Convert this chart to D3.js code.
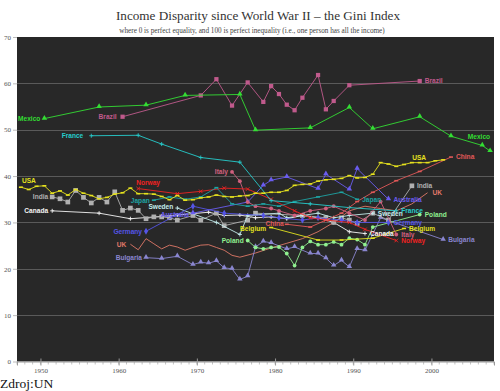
<!DOCTYPE html>
<html><head><meta charset="utf-8">
<script src="https://cdn.jsdelivr.net/npm/d3@7/dist/d3.min.js"></script>
<style>html,body{margin:0;padding:0;background:#fff;}svg{display:block}</style>
</head><body>
<svg id="chart" width="500" height="391"></svg>
<script>
// ---------- data ----------
const yTicks = [0,10,20,30,40,50,60,70];
const xTicks = [1950,1960,1970,1980,1990,2000];
const titleText = "Income Disparity since World War II \u2013 the Gini Index";
const subtitleText = "where 0 is perfect equality, and 100 is perfect inequality (i.e., one person has all the income)";
const sourceText = "Zdroj:UN";

const mexico = [[1950,52.4],[1957,54.9],[1963,55.3],[1968,57.4],[1975,57.6],[1977,49.9],[1984,50.4],[1989,54.8],[1992,50.2],[1998,52.8],[2002,48.6],[2006,46.6],[2007,45.4]];
const brazil = [[1960,52.8],[1970,57.4],[1972,60.9],[1974,55.2],[1976,60.2],[1978,56.0],[1979,59.4],[1980,57.7],[1981,55.4],[1982,54.2],[1983,56.9],[1985,61.8],[1986,54.4],[1987,56.2],[1989,59.6],[1998,60.5]];
const france = [[1956,48.7],[1962,48.8],[1965,46.9],[1970,44.0],[1975,43.0],[1979,34.7],[1984,34.0],[1989,33.2],[1995,32.5]];
const usa = [[1947,37.6],[1948,37.1],[1949,37.8],[1950,37.9],[1951,36.3],[1952,36.8],[1953,35.9],[1954,37.1],[1955,36.3],[1956,35.8],[1957,35.1],[1958,35.4],[1959,36.1],[1960,36.4],[1961,37.4],[1962,36.2],[1963,36.2],[1964,36.1],[1965,35.6],[1966,34.9],[1967,35.8],[1968,34.8],[1969,34.9],[1970,35.3],[1971,35.5],[1972,35.9],[1973,35.6],[1974,35.5],[1975,35.7],[1976,35.8],[1977,36.3],[1978,36.3],[1979,36.5],[1980,36.5],[1981,36.9],[1982,38.0],[1983,38.2],[1984,38.3],[1985,38.9],[1986,39.2],[1987,39.3],[1988,39.5],[1989,40.1],[1990,39.6],[1991,39.7],[1992,40.4],[1993,42.9],[1994,42.6],[1995,42.1],[1996,42.5],[1997,42.9],[1998,42.9],[1999,42.9],[2000,43.3],[2001,43.5]];
const china = [[1981,29.6],[1984,29.0],[1986,30.5],[1988,32.0],[1990,34.5],[1992,36.5],[1995,39.0],[1998,41.0],[2002,44.1]];
const india = [[1951,35.5],[1952,35.1],[1953,34.4],[1954,36.9],[1955,35.4],[1956,34.2],[1957,35.4],[1958,34.4],[1959,36.6],[1960,32.6],[1961,33.1],[1962,32.6],[1963,30.8],[1964,31.2],[1965,31.2],[1966,31.0],[1967,30.5],[1969,31.5],[1970,30.5],[1972,32.0],[1973,29.3],[1976,30.5],[1977,32.0],[1983,31.5],[1986,31.0],[1987,30.0],[1988,31.0],[1989,30.5],[1990,29.8],[1992,32.0],[1994,30.5],[1997,37.9]];
const canada = [[1951,32.5],[1957,32.0],[1961,30.8],[1965,31.3],[1967,31.6],[1971,32.2],[1973,31.5],[1975,31.6],[1977,31.0],[1979,31.2],[1981,30.8],[1983,31.5],[1985,31.0],[1987,30.0],[1989,28.0],[1991,27.6]];
const norway = [[1962,37.3],[1967,36.2],[1970,36.7],[1973,37.4],[1976,37.2],[1979,35.0],[1982,32.5],[1984,31.0],[1986,30.5],[1989,30.0],[1991,28.5],[1995,26.1]];
const japan = [[1964,34.8],[1966,35.5],[1968,35.0],[1970,35.5],[1972,37.5],[1974,34.0],[1976,33.5],[1978,34.0],[1980,33.5],[1982,34.5],[1985,35.5],[1988,36.5],[1990,35.0]];
const italy = [[1974,40.9],[1975,38.9],[1976,34.4],[1977,33.5],[1979,33.0],[1980,32.5],[1982,31.5],[1984,32.5],[1986,33.0],[1987,33.5],[1989,32.0],[1991,30.5],[1993,34.5],[1995,27.4]];
const sweden = [[1967,33.1],[1972,30.0],[1975,27.4],[1976,31.5],[1980,32.0],[1981,31.0],[1983,31.5],[1985,32.0],[1987,31.0],[1989,31.5],[1992,32.0]];
const australia = [[1969,32.0],[1976,34.4],[1978,38.0],[1979,39.1],[1981,39.8],[1985,37.3],[1986,40.4],[1989,37.1],[1990,41.6],[1994,35.0]];
const germany = [[1963,28.1],[1969,33.5],[1973,32.0],[1978,31.5],[1980,31.0],[1983,30.5],[1985,31.0],[1988,30.5],[1990,30.0],[1994,30.0]];
const uk = [[1961,25.3],[1962,24.1],[1963,26.5],[1964,25.4],[1965,24.3],[1966,25.1],[1967,24.7],[1968,24.0],[1969,24.6],[1970,25.1],[1971,25.2],[1972,24.6],[1973,24.0],[1974,22.9],[1975,22.5],[1977,23.4],[1979,24.5],[1981,25.5],[1983,26.5],[1985,28.0],[1987,30.0],[1989,32.5],[1991,33.5],[1993,33.0],[1995,32.5],[1997,34.0],[1999,36.4]];
const bulgaria = [[1963,22.4],[1965,22.2],[1967,22.7],[1969,20.9],[1970,21.4],[1971,21.2],[1972,21.7],[1973,20.2],[1974,20.0],[1975,17.7],[1976,18.4],[1977,24.7],[1978,25.9],[1979,25.6],[1981,24.3],[1982,24.7],[1984,23.3],[1985,23.3],[1986,22.3],[1987,20.7],[1988,21.8],[1989,20.4],[1990,24.3],[1991,24.0],[1993,31.0],[2001,26.3]];
const poland = [[1976,26.1],[1977,24.6],[1978,24.3],[1979,24.6],[1980,24.7],[1981,23.3],[1982,20.7],[1983,24.6],[1984,25.9],[1985,25.2],[1986,25.2],[1987,25.8],[1988,25.2],[1989,26.6],[1990,26.3],[1991,25.2],[1992,29.0],[1998,31.7]];
const belgium = [[1979,28.9],[1985,26.2],[1988,26.2],[1992,26.6],[1996,28.7]];

const seriesNames = ["UK","Bulgaria","Poland","Belgium","Canada","India","Sweden","Germany","Australia","Italy","Norway","Japan","France","China","USA","Brazil","Mexico"];
const seriesData = {UK:uk,Bulgaria:bulgaria,Poland:poland,Belgium:belgium,Canada:canada,India:india,Sweden:sweden,Germany:germany,Australia:australia,Italy:italy,Norway:norway,Japan:japan,France:france,China:china,USA:usa,Brazil:brazil,Mexico:mexico};

// ---------- styles ----------
const styles = {
  Mexico:{c:"#33dd33",m:"tri",end:[0,-12.5,"end"]},
  Brazil:{c:"#c05a8c",m:"sq",start:[-6,2.4,"end"]},
  France:{c:"#26cccc",m:"plus",start:[-8,2.4,"end"]},
  USA:{c:"#e6e21e",m:"dash",start:[1,-4,"start"],end:[-31,0,"start"]},
  China:{c:"#e05858",m:"dash",start:[-3,1.5,"end"]},
  India:{c:"#b0b0b0",m:"sqg"},
  Canada:{c:"#f4f4f4",m:"plus"},
  Norway:{c:"#ee2222",m:"x",start:[-2,-4,"start"]},
  Japan:{c:"#1ea3a3",m:"dash"},
  Italy:{c:"#d0607e",m:"dot"},
  Sweden:{c:"#c4ecec",m:"plus",start:[-4,1.2,"end"]},
  Australia:{c:"#6a5cf0",m:"tri",start:[-4,3.8,"end"]},
  Germany:{c:"#5555e6",m:"dia"},
  UK:{c:"#e07868",m:"none"},
  Bulgaria:{c:"#8a86d0",m:"tri"},
  Poland:{c:"#90f090",m:"dot"},
  Belgium:{c:"#e2e21e",m:"dash",start:[-5,3.2,"end"]}
};

// ---------- chart ----------
const svg = d3.select("#chart");
const x = d3.scaleLinear().domain([1947,2008]).range([17,494]);
const y = d3.scaleLinear().domain([0,70]).range([361.5,37]);
const px = d => x(d[0] + 0.5);
const py = d => y(d[1]);

svg.append("text").attr("x",258).attr("y",20).attr("text-anchor","middle")
  .attr("font-family","'Liberation Serif',serif").attr("font-size",13.2).attr("fill","#333").text(titleText);
svg.append("text").attr("x",252).attr("y",33).attr("text-anchor","middle")
  .attr("font-family","'Liberation Serif',serif").attr("font-size",7.2).attr("fill","#444").text(subtitleText);

svg.append("rect").attr("x",x(1947)).attr("y",y(70)).attr("width",x(2008)-x(1947)).attr("height",y(0)-y(70)).attr("fill","#282828");

// grid
svg.append("g").selectAll("line").data(yTicks.filter(t=>t>0&&t<70)).join("line")
  .attr("x1",x(1947)).attr("x2",x(2008)).attr("y1",d=>Math.round(y(d))+0.5).attr("y2",d=>Math.round(y(d))+0.5)
  .attr("stroke","#5a5a5a").attr("stroke-width",1);

// y axis
const yAxis = d3.axisLeft(y).tickValues(yTicks).tickSize(4).tickPadding(2);
const gy = svg.append("g").attr("transform",`translate(${x(1947)},0)`).call(yAxis);
gy.select(".domain").remove();
gy.selectAll("line").attr("stroke","#bbb");
gy.selectAll("text").attr("font-family","'Liberation Serif',serif").attr("font-size",7).attr("fill","#555");

// x axis (major + minor)
const minor = d3.range(1947,2009);
svg.append("g").selectAll("line").data(minor).join("line")
  .attr("x1",d=>x(d)).attr("x2",d=>x(d)).attr("y1",y(0)).attr("y2",y(0)+3)
  .attr("stroke","#aaa").attr("stroke-width",0.7);
const xAxis = d3.axisBottom(x).tickValues(xTicks).tickFormat(d3.format("d")).tickSize(4).tickPadding(2.5);
const gx = svg.append("g").attr("transform",`translate(0,${y(0)})`).call(xAxis);
gx.select(".domain").attr("stroke","#999");
gx.selectAll("line").attr("stroke","#999").attr("y1",-3);
gx.selectAll("text").attr("font-family","'Liberation Serif',serif").attr("font-size",7).attr("fill","#555");

// series
const line = d3.line().x(px).y(py);
const plotG = svg.append("g");
function marker(g, d, st){
  const cx = px(d), cy = py(d), c = st.c;
  switch(st.m){
    case "tri": g.append("path").attr("d",d3.symbol(d3.symbolTriangle,13)()).attr("transform",`translate(${cx},${cy-0.5})`).attr("fill",c); break;
    case "sq": g.append("path").attr("d",d3.symbol(d3.symbolSquare,18)()).attr("transform",`translate(${cx},${cy})`).attr("fill",c); break;
    case "sqg": g.append("path").attr("d",d3.symbol(d3.symbolSquare,22)()).attr("transform",`translate(${cx},${cy})`).attr("fill",c); break;
    case "dia": g.append("path").attr("d",d3.symbol(d3.symbolDiamond,14)()).attr("transform",`translate(${cx},${cy})`).attr("fill",c); break;
    case "dot": g.append("circle").attr("cx",cx).attr("cy",cy).attr("r",1.9).attr("fill",c); break;
    case "plus": g.append("path").attr("d",`M${cx-2},${cy}H${cx+2}M${cx},${cy-2}V${cy+2}`).attr("stroke",c).attr("stroke-width",0.9); break;
    case "x": g.append("path").attr("d",`M${cx-1.8},${cy-1.8}L${cx+1.8},${cy+1.8}M${cx-1.8},${cy+1.8}L${cx+1.8},${cy-1.8}`).attr("stroke",c).attr("stroke-width",0.9); break;
    case "dash": g.append("path").attr("d",`M${cx-2},${cy}H${cx+2}`).attr("stroke",c).attr("stroke-width",1.6); break;
    default: break;
  }
}
seriesNames.forEach(name=>{
  const data = seriesData[name], st = styles[name];
  const g = plotG.append("g");
  g.append("path").datum(data).attr("d",line).attr("fill","none").attr("stroke",st.c).attr("stroke-width",0.9).attr("stroke-linejoin","round");
  data.forEach(d=>marker(g,d,st));
});
// labels
const lblG = svg.append("g").attr("font-family","'Liberation Sans',Arial,sans-serif").attr("font-weight","bold").attr("font-size",6.6);
seriesNames.forEach(name=>{
  const data = seriesData[name], st = styles[name];
  const f = data[0], l = data[data.length-1];
  const s = st.start || [-4, 2.4, "end"];
  const e = st.end || [5, 2.4, "start"];
  lblG.append("text").attr("x",px(f)+s[0]).attr("y",py(f)+s[1]).attr("text-anchor",s[2]).attr("fill",st.c).text(name);
  lblG.append("text").attr("x",px(l)+e[0]).attr("y",py(l)+e[1]).attr("text-anchor",e[2]).attr("fill",st.c).text(name);
});

svg.append("text").attr("x",0).attr("y",387.5).attr("font-family","'Liberation Serif',serif").attr("font-size",13.5).attr("fill","#111").text(sourceText);
</script>
</body></html>
